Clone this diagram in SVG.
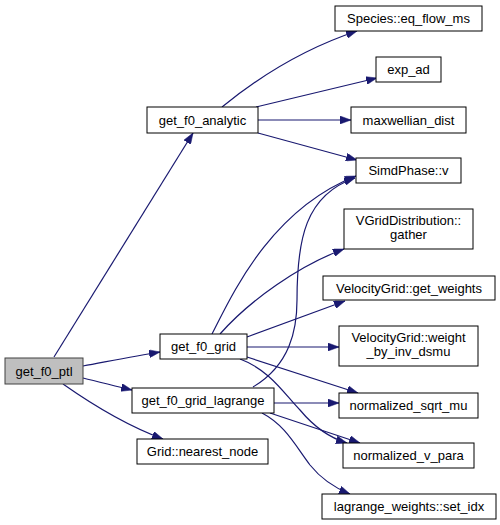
<svg xmlns="http://www.w3.org/2000/svg" width="500" height="525" viewBox="0 0 500 525">
<style>
.n rect{fill:#ffffff;stroke:#000000;stroke-width:1}
.n.g rect{fill:#bfbfbf;stroke:#404040}
.n text{font-family:"Liberation Sans",Arial,sans-serif;font-size:13px;fill:#000000;text-anchor:middle}
#edges path{fill:none;stroke:#191970;stroke-width:1.2}
</style>
<defs>
<marker id="ah" markerUnits="userSpaceOnUse" markerWidth="11" markerHeight="8" refX="11" refY="4" orient="auto">
<path d="M0,0 L11,4 L0,8 z" fill="#191970" stroke="#191970" stroke-width="0.5"/>
</marker>
</defs>
<rect width="500" height="525" fill="#ffffff"/>
<g id="edges">
<path d="M54,357 L193,133" marker-end="url(#ah)"/>
<path d="M83,366 C110,361 135,356 160,352" marker-end="url(#ah)"/>
<path d="M83,378 C100,382 115,386 132,390" marker-end="url(#ah)"/>
<path d="M63,384 C90,403 125,425 163,439" marker-end="url(#ah)"/>
<path d="M222,107 C255,80 300,50 357,31" marker-end="url(#ah)"/>
<path d="M256,107 L377,78" marker-end="url(#ah)"/>
<path d="M258,120 L351,120" marker-end="url(#ah)"/>
<path d="M258,133 L357,160" marker-end="url(#ah)"/>
<path d="M212,334 C232,295 270,210 356,176" marker-end="url(#ah)"/>
<path d="M253,387 C290,365 297,330 297,300 C297,240 305,195 355,178" marker-end="url(#ah)"/>
<path d="M220,334 C250,300 300,265 344,249" marker-end="url(#ah)"/>
<path d="M247,337 L345,301" marker-end="url(#ah)"/>
<path d="M247,347 L339,347" marker-end="url(#ah)"/>
<path d="M247,357 L358,393" marker-end="url(#ah)"/>
<path d="M240,359 C270,370 285,395 300,410 C315,428 330,438 347,443" marker-end="url(#ah)"/>
<path d="M274,403 L339,403" marker-end="url(#ah)"/>
<path d="M270,413 L360,443" marker-end="url(#ah)"/>
<path d="M262,413 C285,425 295,445 310,465 C322,480 335,488 350,494" marker-end="url(#ah)"/>
</g>
<g id="get_f0_ptl" class="n g"><rect x="5" y="358" width="78" height="26"/><text x="44" y="375.5">get_f0_ptl</text></g>
<g id="get_f0_analytic" class="n"><rect x="147" y="107" width="111" height="26"/><text x="202.5" y="124.5">get_f0_analytic</text></g>
<g id="species_eq_flow_ms" class="n"><rect x="335" y="6" width="147" height="25"/><text x="408.5" y="23">Species::eq_flow_ms</text></g>
<g id="exp_ad" class="n"><rect x="376" y="57" width="65" height="25"/><text x="408.5" y="74">exp_ad</text></g>
<g id="maxwellian_dist" class="n"><rect x="351" y="107" width="115" height="26"/><text x="408.5" y="124.5">maxwellian_dist</text></g>
<g id="simdphase_v" class="n"><rect x="356" y="158" width="105" height="25"/><text x="408.5" y="175">SimdPhase::v</text></g>
<g id="vgrid_gather" class="n"><rect x="344" y="209" width="129" height="40"/><text x="408.5" y="225">VGridDistribution::</text><text x="408.5" y="239">gather</text></g>
<g id="vgrid_get_weights" class="n"><rect x="323" y="276" width="172" height="24"/><text x="409" y="292.5">VelocityGrid::get_weights</text></g>
<g id="vgrid_weight_by_inv_dsmu" class="n"><rect x="339" y="326" width="139" height="40"/><text x="408.5" y="342">VelocityGrid::weight</text><text x="408.5" y="356">_by_inv_dsmu</text></g>
<g id="get_f0_grid" class="n"><rect x="160" y="334" width="87" height="25"/><text x="203.5" y="351">get_f0_grid</text></g>
<g id="get_f0_grid_lagrange" class="n"><rect x="132" y="388" width="142" height="25"/><text x="203" y="405">get_f0_grid_lagrange</text></g>
<g id="grid_nearest_node" class="n"><rect x="137" y="439" width="131" height="25"/><text x="202.5" y="456">Grid::nearest_node</text></g>
<g id="normalized_sqrt_mu" class="n"><rect x="339" y="393" width="139" height="25"/><text x="408.5" y="410">normalized_sqrt_mu</text></g>
<g id="normalized_v_para" class="n"><rect x="343" y="443" width="131" height="25"/><text x="408.5" y="460">normalized_v_para</text></g>
<g id="lagrange_set_idx" class="n"><rect x="322" y="494" width="174" height="25"/><text x="409" y="511">lagrange_weights::set_idx</text></g>
</svg>
